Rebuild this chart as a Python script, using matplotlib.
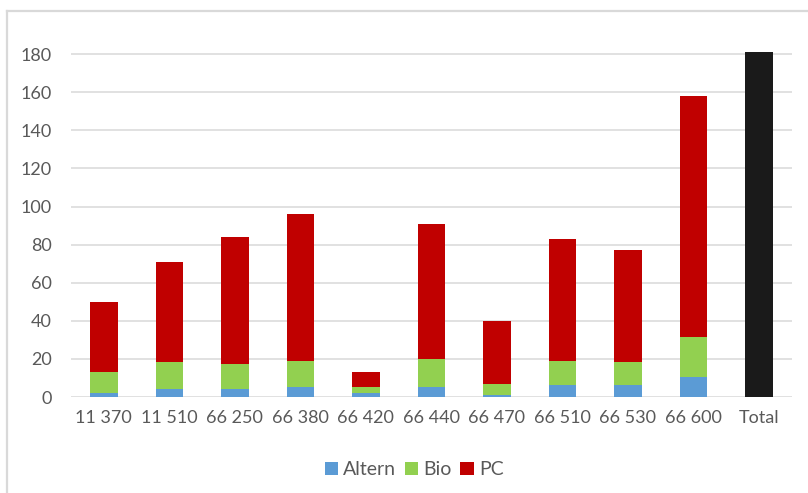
import matplotlib
matplotlib.use("Agg")
import matplotlib.pyplot as plt
from matplotlib.lines import Line2D
import numpy as np

categories = ["11 370", "11 510", "66 250", "66 380", "66 420",
              "66 440", "66 470", "66 510", "66 530", "66 600"]
altern = [2.3, 4.2, 4.2, 5.2, 2.3, 5.2, 1.2, 6.3, 6.3, 10.5]
bio = [10.8, 14.0, 12.9, 13.7, 2.8, 14.7, 5.6, 12.6, 11.9, 20.8]
pc = [36.9, 52.8, 67.0, 77.1, 7.9, 71.1, 33.2, 64.1, 58.8, 126.7]
total_label = "Total"
total_value = 181

col_altern = "#5b9bd5"
col_bio = "#92d050"
col_pc = "#c00000"
col_total = "#1a1a1a"
text_col = "#595959"

plt.rcParams["font.family"] = ["Lato", "DejaVu Sans"]

fig = plt.figure(figsize=(8.08, 4.93), dpi=100)
ax = fig.add_axes([0.0879, 0.1947, 0.892, 0.703])

x = np.arange(len(categories))
w = 0.42
a = np.array(altern)
b = np.array(bio)
p = np.array(pc)
ax.bar(x, a, w, color=col_altern, label="Altern", zorder=3)
ax.bar(x, b, w, bottom=a, color=col_bio, label="Bio", zorder=3)
ax.bar(x, p, w, bottom=a + b, color=col_pc, label="PC", zorder=3)
ax.bar([len(categories)], [total_value], w, color=col_total, zorder=3)

ax.set_xlim(-0.5, len(categories) + 0.5)
ax.set_ylim(0, 182)
ax.set_yticks(range(0, 181, 20))
ax.set_xticks(list(x) + [len(categories)])
ax.set_xticklabels(categories + [total_label])

ax.grid(axis="y", color="#d9d9d9", linewidth=1.1, zorder=0)
for s in ax.spines.values():
    s.set_visible(False)
ax.tick_params(axis="both", length=0, colors=text_col, labelsize=13)
ax.tick_params(axis="y", pad=14)
ax.tick_params(axis="x", pad=9)

leg = ax.legend(loc="upper center", bbox_to_anchor=(0.476, -0.135), ncol=3,
                frameon=False, fontsize=14, handlelength=0.7, handleheight=0.7,
                handletextpad=0.25, columnspacing=0.45)
for t in leg.get_texts():
    t.set_color(text_col)

# chart area frame (top and left edges)
fig.add_artist(Line2D([7 / 808, 1.0], [1 - 11 / 493, 1 - 11 / 493],
                      transform=fig.transFigure, color="#d9d9d9", linewidth=1.6))
fig.add_artist(Line2D([7 / 808, 7 / 808], [0, 1 - 11 / 493],
                      transform=fig.transFigure, color="#d9d9d9", linewidth=1.6))

fig.savefig("out.png", dpi=100)
